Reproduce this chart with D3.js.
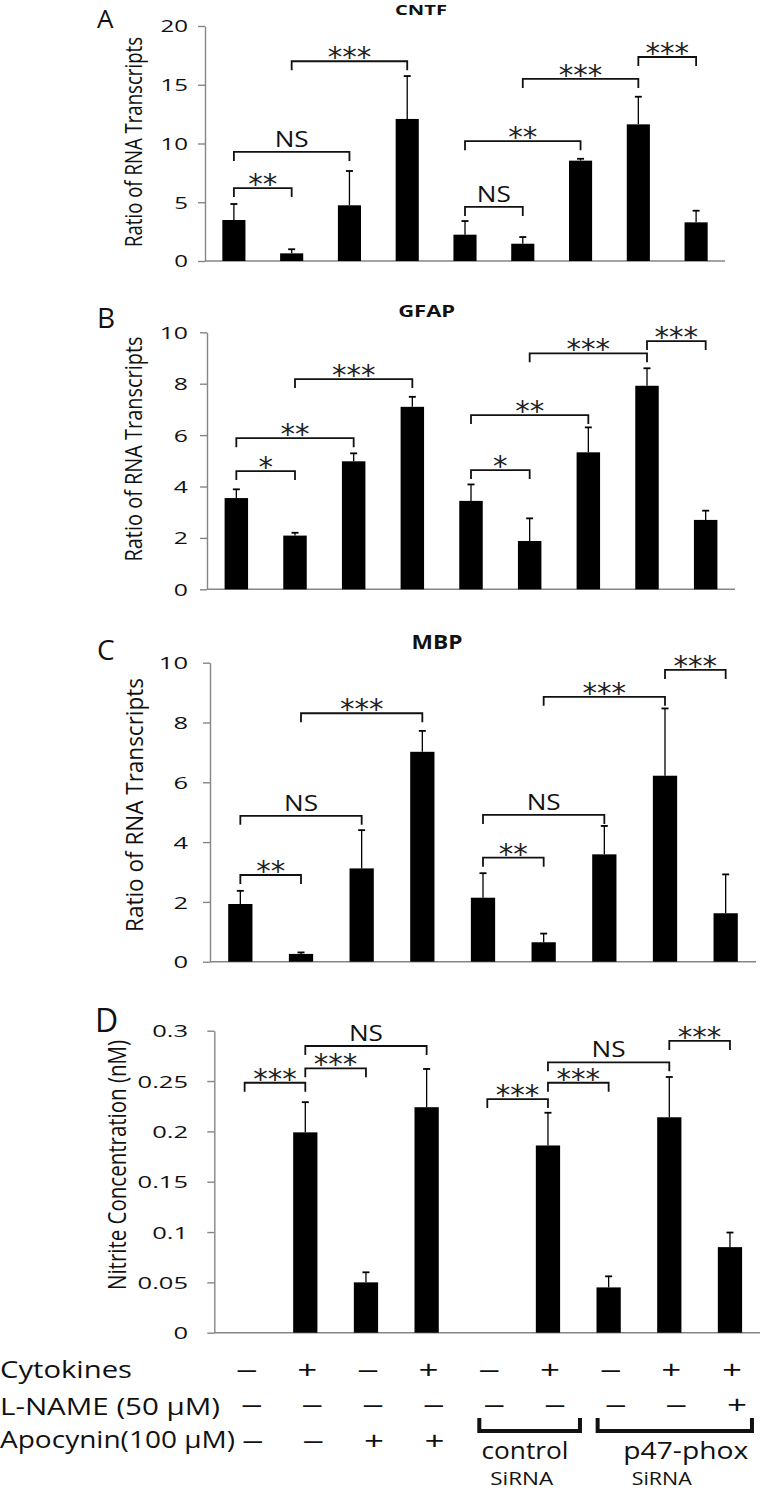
<!DOCTYPE html>
<html><head><meta charset="utf-8">
<script src="https://cdn.jsdelivr.net/npm/d3@7"></script>
<style>body{margin:0;background:#fff}svg{display:block}</style>
</head><body>
<svg id="c" width="760" height="1490"></svg>
<script>
// ---------- DATA ----------
const groups = ["g1","g2","g3","g4","g5","g6","g7","g8","g9"];

const cntfMean = [3.49, 0.65, 4.74, 12.09, 2.24, 1.47, 8.54, 11.63, 3.29];
const cntfErr  = [1.36, 0.35, 2.92, 3.65, 1.16, 0.57, 0.16, 2.35, 0.99];
const gfapMean = [3.55, 2.09, 4.98, 7.10, 3.44, 1.88, 5.33, 7.92, 2.70];
const gfapErr  = [0.34, 0.11, 0.31, 0.39, 0.64, 0.88, 0.97, 0.68, 0.36];
const mbpMean  = [1.93, 0.26, 3.12, 7.02, 2.14, 0.65, 3.59, 6.22, 1.62];
const mbpErr   = [0.44, 0.05, 1.28, 0.70, 0.82, 0.29, 0.95, 2.25, 1.30];
const no2Mean  = [0, 0.199, 0.050, 0.224, 0, 0.186, 0.045, 0.214, 0.085];
const no2Err   = [0, 0.030, 0.010, 0.038, 0, 0.0325, 0.011, 0.040, 0.0145];

const ticksA = [0, 5, 10, 15, 20];
const ticksAL = ["0", "5", "10", "15", "20"];
const ticksBC = [0, 2, 4, 6, 8, 10];
const ticksBCL = ["0", "2", "4", "6", "8", "10"];
const ticksD = [0, 0.05, 0.1, 0.15, 0.2, 0.25, 0.3];
const ticksDL = ["0", "0.05", "0.1", "0.15", "0.2", "0.25", "0.3"];

// significance brackets: [from, to, level (data units), label]
const cntfSig = [[0,1,6.21,"**"],[0,2,9.28,"NS"],[1,3,17.0,"***"],[4,5,4.6,"NS"],[4,6,10.2,"**"],[5,7,15.5,"***"],[7,8,17.36,"***"]];
const gfapSig = [[0,1,4.6,"*"],[0,2,5.88,"**"],[1,3,8.18,"***"],[4,5,4.64,"*"],[4,6,6.78,"**"],[5,7,9.18,"***"],[7,8,9.66,"***"]];
const mbpSig  = [[0,1,2.9,"**"],[0,2,4.88,"NS"],[1,3,8.31,"***"],[4,5,3.48,"**"],[4,6,4.91,"NS"],[5,7,8.86,"***"],[7,8,9.76,"***"]];
const no2Sig  = [[0,1,0.2483,"***"],[1,2,0.2626,"***"],[1,3,0.2848,"NS"],[4,5,0.2321,"***"],[5,6,0.2483,"***"],[5,7,0.2686,"NS"],[7,8,0.2898,"***"]];

const rowLabels = ["Cytokines", "L-NAME (50 \u03BCM)", "Apocynin(100 \u03BCM)"];
const cytokines = ["-","+","-","+","-","+","-","+","+"];
const lname     = ["-","-","-","-","-","-","-","-","+"];
const apocynin  = ["-","-","+","+","","","","",""];
const siGroups  = [["control","SiRNA",4,5],["p47-phox","SiRNA",6,8]];

// ---------- LAYOUT ----------
const FONT = "'Open Sans', sans-serif";
const AST = "'DejaVu Sans', sans-serif";
const svg = d3.select("#c");

const panels = [
  {letter:"A", title:"CNTF", mean:cntfMean, err:cntfErr, sig:cntfSig, ticks:ticksA, tl:ticksAL, max:20,
   x0:205, x1:725, yTop:26, yBot:261, lp:[97,28,26], tp:[421,15,14,52],
   yl:"Ratio of RNA Transcripts", ylp:[142,142,17,210,1.41], tfs:16},
  {letter:"B", title:"GFAP", mean:gfapMean, err:gfapErr, sig:gfapSig, ticks:ticksBC, tl:ticksBCL, max:10,
   x0:207, x1:735, yTop:332.3, yBot:589.3, lp:[97,328,28], tp:[426.7,317,16,57],
   yl:"Ratio of RNA Transcripts", ylp:[141.5,449,17,225,1.35], tfs:16.5},
  {letter:"C", title:"MBP", mean:mbpMean, err:mbpErr, sig:mbpSig, ticks:ticksBC, tl:ticksBCL, max:10,
   x0:210, x1:756, yTop:662.7, yBot:961.7, lp:[97,660,28], tp:[437,649,19,51],
   yl:"Ratio of RNA Transcripts", ylp:[142.5,805,18,254,1.3], tfs:17},
  {letter:"D", title:"", mean:no2Mean, err:no2Err, sig:no2Sig, ticks:ticksD, tl:ticksDL, max:0.3,
   x0:214.3, x1:760.3, yTop:1030.7, yBot:1332.7, lp:[95,1032,32], tp:null,
   yl:"Nitrite Concentration (nM)", ylp:[126,1165,17,250,1.47], tfs:17}
];

function stretch(sel, f){
  sel.each(function(){
    const w = this.getComputedTextLength();
    d3.select(this).attr("textLength", w*f).attr("lengthAdjust","spacingAndGlyphs");
  });
}

let xD = null;
panels.forEach(p => {
  const g = svg.append("g");
  const x = d3.scaleBand().domain(groups).range([p.x0, p.x1]).paddingInner(0.6).paddingOuter(0.3);
  const y = d3.scaleLinear().domain([0, p.max]).range([p.yBot, p.yTop]);
  const cx = i => x(groups[i]) + x.bandwidth()/2;
  if (p.letter === "D") xD = {x, cx};

  // y axis
  const ax = d3.axisLeft(y).tickValues(p.ticks).tickFormat((d,i)=>p.tl[i])
    .tickSize(7).tickSizeOuter(0).tickPadding(p.x0 - 7 - 188);
  const ag = g.append("g").attr("transform", `translate(${p.x0},0)`).call(ax);
  ag.select(".domain").attr("stroke", "#858585").attr("stroke-width", 1.4);
  ag.selectAll(".tick line").attr("stroke", "#858585").attr("stroke-width", 1.4);
  ag.selectAll(".tick text").attr("fill", "#111").style("font-family", FONT).style("font-size", p.tfs + "px")
    .attr("dy", "0.36em");
  stretch(ag.selectAll(".tick text"), 1.5);

  // baseline
  g.append("line").attr("x1", p.x0).attr("x2", p.x1).attr("y1", y(0)).attr("y2", y(0))
    .attr("stroke", "#858585").attr("stroke-width", 1.4);

  // bars
  g.selectAll("rect.bar").data(p.mean).join("rect").attr("class","bar")
    .attr("x", (d,i)=>x(groups[i])).attr("width", x.bandwidth())
    .attr("y", d=>y(d)).attr("height", d=>y(0)-y(d)).attr("fill", "#000");

  // error bars
  const eb = g.selectAll("g.eb").data(p.mean.map((m,i)=>({m, e:p.err[i], i})).filter(d=>d.e>0))
    .join("g").attr("class","eb");
  eb.append("line").attr("x1", d=>cx(d.i)).attr("x2", d=>cx(d.i))
    .attr("y1", d=>y(d.m)).attr("y2", d=>y(d.m+d.e)).attr("stroke","#000").attr("stroke-width",1.3);
  eb.append("line").attr("x1", d=>cx(d.i)-3.5).attr("x2", d=>cx(d.i)+3.5)
    .attr("y1", d=>y(d.m+d.e)).attr("y2", d=>y(d.m+d.e)).attr("stroke","#000").attr("stroke-width",1.8);

  // significance brackets
  p.sig.forEach(([a,b,v,lab]) => {
    const xa = cx(a), xb = cx(b), yy = y(v);
    g.append("path").attr("d", `M${xa},${yy+9}V${yy}H${xb}V${yy+9}`)
      .attr("fill","none").attr("stroke","#111").attr("stroke-width",1.8);
    const mid = (xa+xb)/2;
    if (lab === "NS") {
      g.append("text").attr("x", mid).attr("y", yy-5).attr("text-anchor","middle")
        .style("font-family", FONT).style("font-size","22px").attr("fill","#111")
        .attr("textLength", 34).attr("lengthAdjust","spacingAndGlyphs").text(lab);
    } else {
      g.append("text").attr("x", mid).attr("y", yy-10+16).attr("text-anchor","middle")
        .style("font-family", AST).style("font-size","28px").attr("fill","#222")
        .attr("textLength", 14.5*lab.length).attr("lengthAdjust","spacingAndGlyphs").text(lab);
    }
  });

  // panel letter
  g.append("text").attr("x", p.lp[0]).attr("y", p.lp[1]).style("font-family", FONT)
    .style("font-size", p.lp[2]+"px").attr("fill","#111").text(p.letter);
  // title
  if (p.tp) {
    g.append("text").attr("x", p.tp[0]).attr("y", p.tp[1]).attr("text-anchor","middle")
      .style("font-family", FONT).style("font-weight","bold").style("font-size", p.tp[2]+"px")
      .attr("textLength", p.tp[3]).attr("lengthAdjust","spacingAndGlyphs").attr("fill","#111").text(p.title);
  }
  // y label (glyphs widened perpendicular to the text direction, as in the source figure)
  g.append("text").attr("transform", `translate(${p.ylp[0]},${p.ylp[1]}) scale(${p.ylp[4]},1) rotate(-90)`)
    .attr("text-anchor","middle").style("font-family", FONT).style("font-size", p.ylp[2]+"px")
    .attr("textLength", p.ylp[3]).attr("lengthAdjust","spacingAndGlyphs").attr("fill","#111").text(p.yl);
});

// ---------- TREATMENT TABLE ----------
const rows = [
  {label: rowLabels[0], signs: cytokines, yc: 1371, base: 1378, len: 132, off: 2},
  {label: rowLabels[1], signs: lname,     yc: 1406, base: 1415, len: 220, off: 7},
  {label: rowLabels[2], signs: apocynin,  yc: 1442, base: 1448, len: 235, off: 8}
];
const tg = svg.append("g");
rows.forEach(r => {
  tg.append("text").attr("x", 0).attr("y", r.base).style("font-family", FONT).style("font-size","23px")
    .attr("textLength", r.len).attr("lengthAdjust","spacingAndGlyphs").attr("fill","#111").text(r.label);
  r.signs.forEach((s,i) => {
    if (!s) return;
    tg.append("text").attr("x", xD.cx(i) + r.off).attr("y", r.yc + (s === "+" ? 8 : 7))
      .attr("text-anchor","middle").style("font-family", FONT).style("font-size","26px")
      .attr("textLength", 20).attr("lengthAdjust","spacingAndGlyphs").attr("fill","#111")
      .text(s === "+" ? "+" : "\u2014");
  });
});

// siRNA group brackets
const siLayout = [{l:-8, r:32, t1:[525,87], t2:[521.7,63]}, {l:-11, r:22, t1:[685.8,125], t2:[661.7,60]}];
siGroups.forEach(([a,b,i,j], k) => {
  const L = siLayout[k];
  const xl = xD.cx(i) + L.l, xr = xD.cx(j) + L.r;
  tg.append("path").attr("d", `M${xl},1418V1431H${xr}V1418`).attr("fill","none")
    .attr("stroke","#111").attr("stroke-width",4);
  tg.append("text").attr("x", L.t1[0]).attr("y", 1459).attr("text-anchor","middle")
    .style("font-family", FONT).style("font-size","23px").attr("textLength", L.t1[1])
    .attr("lengthAdjust","spacingAndGlyphs").attr("fill","#111").text(a);
  tg.append("text").attr("x", L.t2[0]).attr("y", 1484.8).attr("text-anchor","middle")
    .style("font-family", FONT).style("font-size","17.5px").attr("textLength", L.t2[1])
    .attr("lengthAdjust","spacingAndGlyphs").attr("fill","#111").text(b);
});
</script>
</body></html>
